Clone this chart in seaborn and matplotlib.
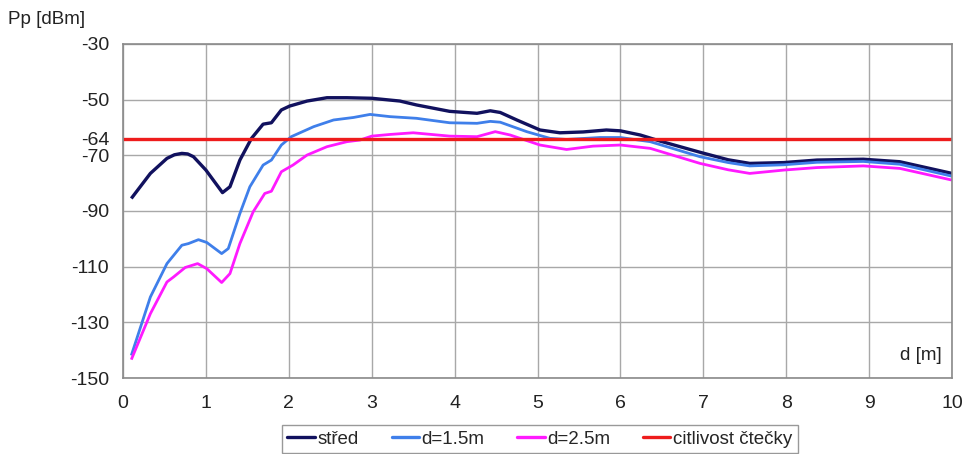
import numpy as np
import pandas as pd
import matplotlib
matplotlib.use("Agg")
import matplotlib.pyplot as plt
import seaborn as sns

# Measured received power Pp [dBm] vs distance d [m]
x_stred = [0.1, 0.33, 0.53, 0.62, 0.71, 0.78, 0.85, 1.0, 1.2, 1.29, 1.41, 1.55, 1.69, 1.79, 1.91,
           2.01, 2.22, 2.46, 2.7, 3.0, 3.34, 3.54, 3.94, 4.27, 4.43, 4.55, 4.75, 5.03,
           5.27, 5.55, 5.83, 6.0, 6.24, 6.48, 6.96, 7.3, 7.56, 7.97, 8.37, 8.93, 9.37, 10.0]
y_stred = [-85.5, -76.5, -71.1, -69.8, -69.3, -69.5, -70.5, -75.3, -83.4, -81.3, -71.7, -63.9, -58.8, -58.3, -53.7,
           -52.3, -50.5, -49.3, -49.3, -49.5, -50.5, -51.9, -54.2, -54.9, -54.0, -54.6, -57.3, -60.9,
           -61.9, -61.6, -60.9, -61.2, -62.7, -64.9, -68.9, -71.6, -72.9, -72.6, -71.7, -71.4, -72.3, -76.5]

x_d15 = [0.1, 0.33, 0.53, 0.71, 0.79, 0.91, 1.01, 1.19, 1.27, 1.41, 1.53, 1.69, 1.79, 1.91,
         2.03, 2.3, 2.54, 2.78, 2.98, 3.22, 3.54, 3.94, 4.27, 4.43, 4.55, 4.87, 5.15, 5.35,
         5.75, 6.0, 6.36, 6.96, 7.3, 7.56, 7.97, 8.37, 8.93, 9.37, 10.0]
y_d15 = [-141.9, -120.9, -108.9, -102.3, -101.7, -100.3, -101.3, -105.3, -103.5, -90.9, -81.3, -73.5, -71.7, -66.3,
         -63.3, -59.7, -57.3, -56.4, -55.3, -56.1, -56.7, -58.3, -58.5, -57.8, -58.1, -61.5, -63.9, -64.3,
         -63.6, -63.6, -65.1, -70.5, -72.6, -73.8, -73.4, -72.5, -72.2, -73.2, -77.5]

x_d25 = [0.1, 0.33, 0.53, 0.61, 0.75, 0.9, 1.01, 1.19, 1.29, 1.41, 1.57, 1.71, 1.79, 1.91,
         2.05, 2.22, 2.46, 2.7, 2.86, 3.0, 3.22, 3.5, 3.94, 4.27, 4.49, 4.67, 5.03, 5.35,
         5.67, 6.0, 6.36, 6.96, 7.3, 7.56, 7.97, 8.37, 8.93, 9.37, 10.0]
y_d25 = [-143.4, -126.9, -115.5, -113.7, -110.3, -108.9, -110.7, -115.7, -112.5, -101.7, -90.3, -83.7, -82.9, -75.9,
         -73.5, -69.9, -66.9, -65.1, -64.5, -63.1, -62.5, -61.9, -63.1, -63.3, -61.5, -62.7, -66.3, -67.9,
         -66.7, -66.3, -67.5, -72.9, -75.2, -76.5, -75.3, -74.4, -73.8, -74.7, -78.9]

# Reader sensitivity threshold
x_citl = [0.0, 10.0]
y_citl = [-64.0, -64.0]

series_names = ["střed", "d=1.5m", "d=2.5m", "citlivost čtečky"]
series_colors = ["#11115e", "#3f7fea", "#ff1aff", "#ee1c1c"]
series_widths = [2.4, 2.0, 2.0, 2.4]

y_ticks = [-30, -50, -64, -70, -90, -110, -130, -150]
x_ticks = list(range(0, 11))

frames = []
for name, xs, ys in zip(series_names,
                        [x_stred, x_d15, x_d25, x_citl],
                        [y_stred, y_d15, y_d25, y_citl]):
    frames.append(pd.DataFrame({"d": xs, "Pp": ys, "serie": name}))
df = pd.concat(frames, ignore_index=True)

sns.set_theme(style="white")
plt.rcParams["font.family"] = ["Liberation Sans", "DejaVu Sans"]

fig = plt.figure(figsize=(9.64, 4.54), dpi=100)
ax = fig.add_axes([0.1276, 0.1674, 0.9876 - 0.1276, 0.9031 - 0.1674])

sns.lineplot(data=df, x="d", y="Pp", hue="serie", hue_order=series_names,
             palette=dict(zip(series_names, series_colors)), sort=False,
             estimator=None, ax=ax, legend=True)
for line, lw in zip(ax.get_lines(), series_widths):
    line.set_linewidth(lw)
    line.set_solid_joinstyle("round")
    line.set_solid_capstyle("butt")

ax.set_xlim(0, 10)
ax.set_ylim(-150, -30)
ax.set_xticks(x_ticks)
ax.set_yticks(y_ticks)
ax.set_xticklabels([str(t) for t in x_ticks])
ax.set_yticklabels([str(t) for t in y_ticks])
ax.tick_params(axis="both", labelsize=14, colors="#222222", length=5, width=1,
               direction="out", color="#8a8a8a", pad=5)
ax.tick_params(axis="x", pad=7)

ax.grid(True, color="#a8a8a8", linewidth=1.0)
ax.set_axisbelow(True)
for s in ax.spines.values():
    s.set_color("#8a8a8a")
    s.set_linewidth(1.2)

ax.set_xlabel("")
ax.set_ylabel("")
fig.text(0.008, 0.957, "Pp [dBm]", fontsize=13.5, color="#222222", ha="left", va="center")
ax.text(0.988, 0.066, "d [m]", transform=ax.transAxes, fontsize=13.5, color="#222222",
        ha="right", va="center")

handles, labels = ax.get_legend_handles_labels()
for h in handles:
    h.set_linewidth(2.4)
leg = ax.legend(handles, labels, loc="center", bbox_to_anchor=(0.503, -0.183),
                ncol=4, fontsize=13.5, frameon=True, fancybox=False, edgecolor="#999999",
                handlelength=1.45, handletextpad=0.15, columnspacing=1.75,
                borderpad=0.3, framealpha=1)
leg.get_frame().set_linewidth(1.0)

fig.savefig("out.png", dpi=100, facecolor="white")
